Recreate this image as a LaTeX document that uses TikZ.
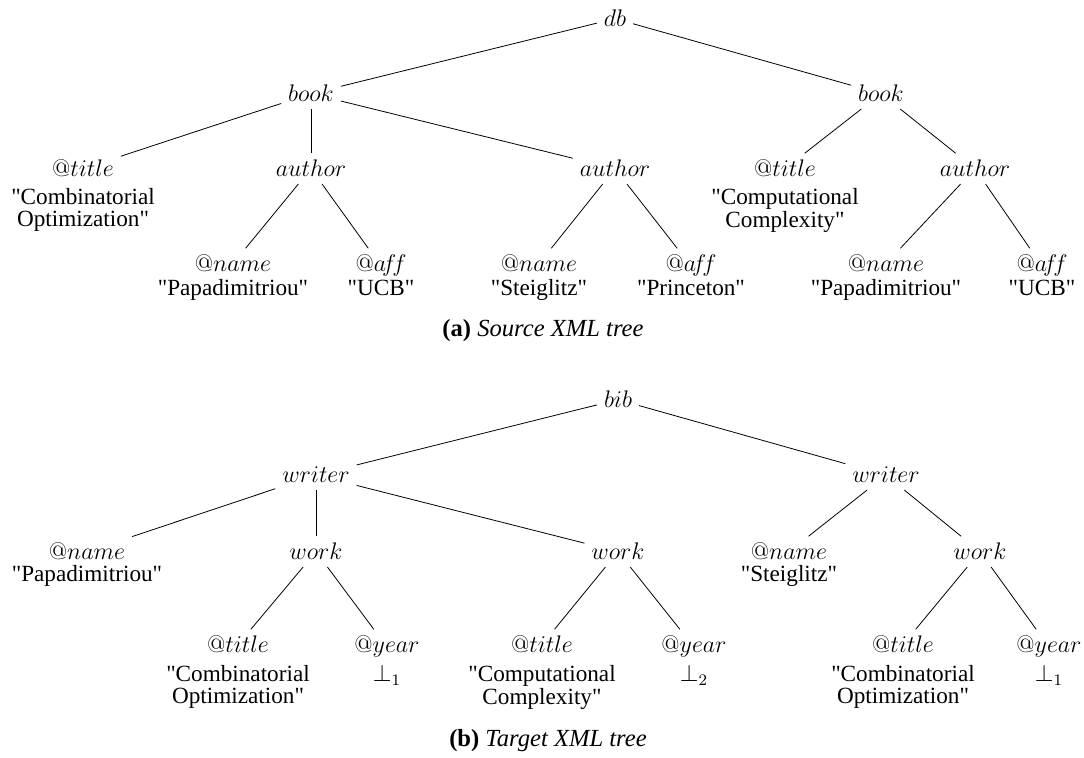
\documentclass[tikz,border=0pt]{standalone}
\usepackage[no-math]{fontspec}
\newfontfamily\timesfont{Liberation Serif}
\usetikzlibrary{positioning}

\newcommand{\strval}[1]{\begin{tabular}[t]{@{}c@{}}#1\end{tabular}}

\begin{document}
\begin{tikzpicture}[x=0.5pt,y=-0.5pt,
  tag/.style={anchor=base,font=\fontsize{12}{10}\selectfont},
  val/.style={anchor=base,inner sep=0pt,font=\fontsize{11.6}{10}\selectfont\timesfont},
  figcap/.style={anchor=base,font=\fontsize{12.3}{14}\selectfont\timesfont}]
\useasboundingbox (0,0) rectangle (1084,758);

% source tree
\node[tag] (db) at (615,27) {$db$};
\node[tag] (bk1) at (311,102) {$book$};
\node[tag] (bk2) at (881,102) {$book$};

\node[tag] (ti1) at (83,177) {$@title$};
\node[tag] (au1) at (311,177) {$author$};
\node[tag] (au2) at (615,177) {$author$};
\node[tag] (ti2) at (785,177) {$@title$};
\node[tag] (au3) at (975,177) {$author$};
\node[val] (vti1) at (83,205) {\strval{"Combinatorial\\Optimization"}};
\node[val] (vti2) at (785,205) {\strval{"Computational\\Complexity"}};

\node[tag] (nm1) at (233,272) {$@name$};
\node[tag] (af1) at (381,272) {$@a\!f\!f$};
\node[tag] (nm2) at (539,272) {$@name$};
\node[tag] (af2) at (691,272) {$@a\!f\!f$};
\node[tag] (nm3) at (886,272) {$@name$};
\node[tag] (af3) at (1042,272) {$@a\!f\!f$};
\node[val] (vnm1) at (233,296) {"Papadimitriou"};
\node[val] (vaf1) at (381,296) {"UCB"};
\node[val] (vnm2) at (539,296) {"Steiglitz"};
\node[val] (vaf2) at (691,296) {"Princeton"};
\node[val] (vnm3) at (886,296) {"Papadimitriou"};
\node[val] (vaf3) at (1042,296) {"UCB"};

\draw (db) -- (bk1);
\draw (db) -- (bk2);
\draw (bk1) -- (ti1);
\draw (bk1) -- (au1);
\draw (bk1) -- (au2);
\draw (bk2) -- (ti2);
\draw (bk2) -- (au3);
\draw (au1) -- (nm1);
\draw (au1) -- (af1);
\draw (au2) -- (nm2);
\draw (au2) -- (af2);
\draw (au3) -- (nm3);
\draw (au3) -- (af3);

\node[figcap] (capa) at (543,337) {\textbf{(a)} \textit{Source XML tree}};

% target tree
\node[tag] (bib) at (618,408) {$bib$};
\node[tag] (wr1) at (316,483) {$writer$};
\node[tag] (wr2) at (886,483) {$writer$};

\node[tag] (nm4) at (87,560) {$@name$};
\node[tag] (wk1) at (316,560) {$work$};
\node[tag] (wk2) at (618,560) {$work$};
\node[tag] (nm5) at (789,560) {$@name$};
\node[tag] (wk3) at (980,560) {$work$};
\node[val] (vnm4) at (87,582) {"Papadimitriou"};
\node[val] (vnm5) at (789,582) {"Steiglitz"};

\node[tag] (ti3) at (238,653) {$@title$};
\node[tag] (yr1) at (387,653) {$@year$};
\node[tag] (ti4) at (542,653) {$@title$};
\node[tag] (yr2) at (694,653) {$@year$};
\node[tag] (ti5) at (903,653) {$@title$};
\node[tag] (yr3) at (1049,653) {$@year$};
\node[val] (vti3) at (238,682) {\strval{"Combinatorial\\Optimization"}};
\node[val] (vyr1) at (387,682) {$\perp_1$};
\node[val] (vti4) at (542,682) {\strval{"Computational\\Complexity"}};
\node[val] (vyr2) at (694,682) {$\perp_2$};
\node[val] (vti5) at (903,682) {\strval{"Combinatorial\\Optimization"}};
\node[val] (vyr3) at (1049,682) {$\perp_1$};

\draw (bib) -- (wr1);
\draw (bib) -- (wr2);
\draw (wr1) -- (nm4);
\draw (wr1) -- (wk1);
\draw (wr1) -- (wk2);
\draw (wr2) -- (nm5);
\draw (wr2) -- (wk3);
\draw (wk1) -- (ti3);
\draw (wk1) -- (yr1);
\draw (wk2) -- (ti4);
\draw (wk2) -- (yr2);
\draw (wk3) -- (ti5);
\draw (wk3) -- (yr3);

\node[figcap] (capb) at (548,747) {\textbf{(b)} \textit{Target XML tree}};
\end{tikzpicture}
\end{document}
